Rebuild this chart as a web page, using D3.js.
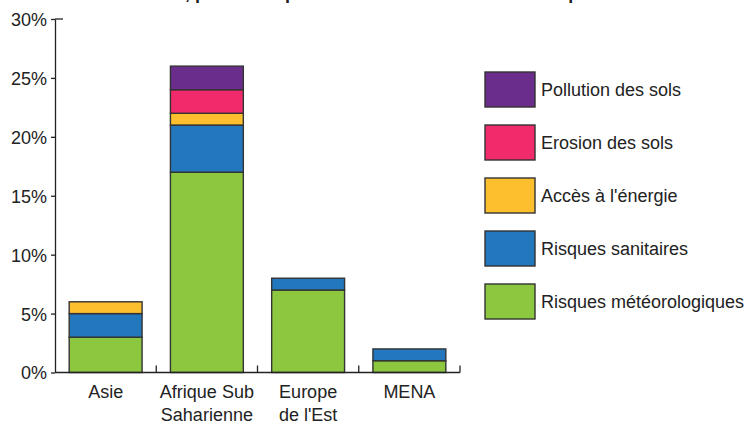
<!DOCTYPE html>
<html>
<head>
<meta charset="utf-8">
<script src="https://cdn.jsdelivr.net/npm/d3@7"></script>
<style>
  html, body { margin: 0; padding: 0; background: #fff; }
  svg text { font-family: "Liberation Sans", Arial, sans-serif; fill: #222; }
</style>
</head>
<body>
<div id="chart"></div>
<script>
// regions and risk categories (bottom to top of each stack)
const regions = ["Asie", "Afrique Sub\nSaharienne", "Europe\nde l'Est", "MENA"];
const series = ["Risques météorologiques", "Risques sanitaires", "Accès à l'énergie", "Erosion des sols", "Pollution des sols"];
const colors = ["#8dc63f", "#2277bd", "#fdbf2d", "#f12b6b", "#6a2d8c"];

// values in % per region, same order as regions
const meteo     = [3, 17, 7, 1];
const sanitaire = [2, 4, 1, 1];
const energie   = [1, 1, 0, 0];
const erosion   = [0, 2, 0, 0];
const pollution = [0, 2, 0, 0];

const yTicks = [0, 5, 10, 15, 20, 25, 30];
const title = "Sources de menace, par site et par nature de la menace citée en premier";

const width = 748, height = 425;
const rows = regions.map((r, i) => ({
  region: r,
  [series[0]]: meteo[i],
  [series[1]]: sanitaire[i],
  [series[2]]: energie[i],
  [series[3]]: erosion[i],
  [series[4]]: pollution[i]
}));

const svg = d3.select("#chart").append("svg")
  .attr("width", width)
  .attr("height", height);

const x = d3.scaleBand()
  .domain(regions)
  .range([55, 460])
  .paddingInner(0.28)
  .paddingOuter(0.14);

const y = d3.scaleLinear()
  .domain([0, 30])
  .range([372.5, 19]);

const color = d3.scaleOrdinal().domain(series).range(colors);

// title sits above the frame, only the descenders show
svg.append("text")
  .attr("x", 16)
  .attr("y", -1)
  .attr("font-weight", "bold")
  .attr("font-size", 18)
  .text(title);

const stacked = d3.stack().keys(series)(rows);

svg.append("g")
  .selectAll("g")
  .data(stacked)
  .join("g")
  .attr("fill", d => color(d.key))
  .selectAll("rect")
  .data(d => d.filter(p => p[1] > p[0]))
  .join("rect")
  .attr("x", d => x(d.data.region))
  .attr("width", x.bandwidth())
  .attr("y", d => y(d[1]))
  .attr("height", d => y(d[0]) - y(d[1]))
  .attr("stroke", "#333")
  .attr("stroke-width", 1.4);

// y axis
const yAxis = svg.append("g")
  .attr("transform", `translate(${x.range()[0]},0)`)
  .call(d3.axisLeft(y).tickValues(yTicks).tickFormat(d => d + "%").tickSize(4).tickSizeOuter(0));
yAxis.select(".domain").attr("stroke", "#222").attr("stroke-width", 1.3);
yAxis.selectAll(".tick line").attr("stroke", "#222").attr("stroke-width", 1.3);
yAxis.selectAll(".tick text")
  .attr("x", -8)
  .attr("dy", "0.36em")
  .attr("font-size", 18)
  .attr("font-family", null)
  .attr("fill", "#222");
yAxis.attr("font-family", null).attr("font-size", null);
// small cap at the top, pointing right
yAxis.append("line")
  .attr("x1", 0).attr("x2", 8)
  .attr("y1", y(30)).attr("y2", y(30))
  .attr("stroke", "#222").attr("stroke-width", 1.3);

// x axis: baseline with inward ticks between categories
const step = x.step();
const xBounds = regions.map((r, i) => x.range()[0] + step * (i + 1));
const xAxis = svg.append("g");
xAxis.append("line")
  .attr("x1", x.range()[0]).attr("x2", x.range()[1])
  .attr("y1", y(0)).attr("y2", y(0))
  .attr("stroke", "#222").attr("stroke-width", 1.3);
xAxis.selectAll("line.tk")
  .data(xBounds)
  .join("line")
  .attr("class", "tk")
  .attr("x1", d => d).attr("x2", d => d)
  .attr("y1", y(0)).attr("y2", y(0) - 7)
  .attr("stroke", "#222").attr("stroke-width", 1.3);

const lab = xAxis.selectAll("text")
  .data(regions)
  .join("text")
  .attr("text-anchor", "middle")
  .attr("font-size", 18)
  .attr("transform", d => `translate(${x(d) + x.bandwidth() / 2},${y(0) + 25})`);
lab.selectAll("tspan")
  .data(d => d.split("\n"))
  .join("tspan")
  .attr("x", 0)
  .attr("dy", (d, i) => i === 0 ? 0 : 23)
  .text(d => d);

// legend, top item first
const legend = svg.append("g")
  .selectAll("g")
  .data(series.slice().reverse())
  .join("g")
  .attr("transform", (d, i) => `translate(485,${72 + i * 53})`);
legend.append("rect")
  .attr("width", 50)
  .attr("height", 35)
  .attr("fill", d => color(d))
  .attr("stroke", "#333")
  .attr("stroke-width", 1.4);
legend.append("text")
  .attr("x", 56)
  .attr("y", 17.5)
  .attr("dy", "0.36em")
  .attr("font-size", 18)
  .text(d => d);
</script>
</body>
</html>
